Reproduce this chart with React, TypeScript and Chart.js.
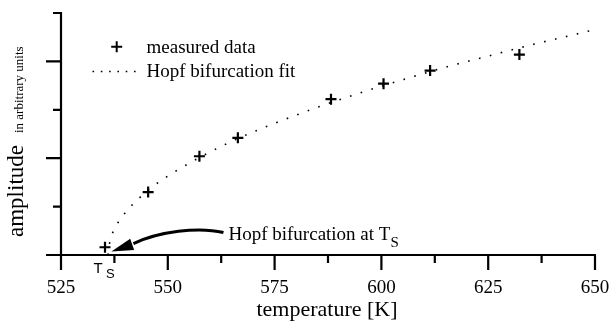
import React, { useEffect, useRef } from 'react';
import { Chart, registerables } from 'chart.js';

Chart.register(...registerables);

// ---- data ----
const measuredT = [535.3, 545.4, 557.4, 566.4, 588.2, 600.5, 611.4, 632.3];
const measuredA = [0.16, 1.3, 2.04, 2.42, 3.22, 3.54, 3.81, 4.14];

const fitT = [536, 536.5, 537, 538, 540, 543, 547, 552, 558, 565, 575, 585, 595, 605, 615, 625, 635, 645, 650];
const fitA = [0, 0.31, 0.44, 0.62, 0.87, 1.15, 1.45, 1.74, 2.04, 2.35, 2.72, 3.05, 3.35, 3.62, 3.88, 4.11, 4.34, 4.55, 4.66];

const xMajorTicks = [525, 550, 575, 600, 625, 650];
const xMinorTicks = [537.5, 562.5, 587.5, 612.5, 637.5];
const yMajorTicks = [0, 2, 4];
const yMinorTicks = [1, 3, 5];

const xMin = 525;
const xMax = 650;
const yMin = 0;
const yMax = 5;

// annotation anchors (data units)
const tsValue = 537.5;
const arrowTipT = 536.8;
const arrowTipA = 0.07;
const noteT = 564.2;
const noteA = 0.3;

const SERIF = '"Liberation Serif", "Times New Roman", serif';
const SANS = '"Liberation Sans", Arial, sans-serif';
const INK = '#000000';

const customAxes = {
  id: 'customAxes',
  afterDraw(chart: any) {
    const ctx: CanvasRenderingContext2D = chart.ctx;
    const xs = chart.scales.x;
    const ys = chart.scales.y;
    const X = (v: number) => xs.getPixelForValue(v);
    const Y = (v: number) => ys.getPixelForValue(v);
    const x0 = X(xMin);
    const x1 = X(xMax);
    const y0 = Y(yMin);
    const yTop = Y(yMax);

    ctx.save();
    ctx.strokeStyle = INK;
    ctx.fillStyle = INK;
    ctx.lineWidth = 2.2;
    ctx.lineCap = 'butt';

    // axis lines
    ctx.beginPath();
    ctx.moveTo(x0 - 15, y0);
    ctx.lineTo(x1 + 1, y0);
    ctx.moveTo(x0, y0 + 15);
    ctx.lineTo(x0, yTop - 1);
    // x ticks
    xMajorTicks.forEach((v) => {
      const p = X(v);
      ctx.moveTo(p, y0);
      ctx.lineTo(p, y0 + 15);
    });
    xMinorTicks.forEach((v) => {
      const p = X(v);
      ctx.moveTo(p, y0);
      ctx.lineTo(p, y0 + 8);
    });
    // y ticks
    yMajorTicks.forEach((v) => {
      const p = Y(v);
      ctx.moveTo(x0, p);
      ctx.lineTo(x0 - 15, p);
    });
    yMinorTicks.forEach((v) => {
      const p = Y(v);
      ctx.moveTo(x0, p);
      ctx.lineTo(x0 - 8, p);
    });
    ctx.stroke();

    // x tick labels
    ctx.font = `19px ${SERIF}`;
    ctx.textAlign = 'center';
    ctx.textBaseline = 'alphabetic';
    xMajorTicks.forEach((v) => {
      ctx.fillText(String(v), X(v), y0 + 38);
    });

    // x title
    ctx.font = `22px ${SERIF}`;
    ctx.fillText('temperature [K]', (x0 + x1) / 2 - 1, y0 + 61);

    // y title
    ctx.save();
    ctx.translate(23, y0 - 18);
    ctx.rotate(-Math.PI / 2);
    ctx.textAlign = 'left';
    ctx.font = `23px ${SERIF}`;
    ctx.fillText('amplitude', 0, 0);
    const w = ctx.measureText('amplitude').width;
    ctx.font = `13px ${SERIF}`;
    ctx.fillText('in arbitrary units', w + 12, 0);
    ctx.restore();

    // T_S label under axis
    const tsx = X(tsValue);
    ctx.textAlign = 'left';
    ctx.font = `15px ${SANS}`;
    ctx.fillText('T', tsx - 21, y0 + 17.5);
    ctx.font = `13px ${SANS}`;
    ctx.fillText('S', tsx - 8.5, y0 + 23);

    // legend
    const ds0 = chart.data.datasets[0];
    const ds1 = chart.data.datasets[1];
    ctx.lineWidth = 2;
    ctx.beginPath();
    ctx.moveTo(111.2, 46.7);
    ctx.lineTo(122.2, 46.7);
    ctx.moveTo(116.7, 41.2);
    ctx.lineTo(116.7, 52.2);
    ctx.stroke();
    ctx.font = `19px ${SERIF}`;
    ctx.fillText(ds0.label, 146.5, 53.3);
    ctx.save();
    ctx.lineWidth = 1.6;
    ctx.setLineDash([1.6, 6.7]);
    ctx.beginPath();
    ctx.moveTo(92.5, 71.5);
    ctx.lineTo(138, 71.5);
    ctx.stroke();
    ctx.restore();
    ctx.fillText(ds1.label, 146.5, 77.3);

    // annotation text
    const nx = X(noteT);
    const ny = Y(noteA);
    ctx.font = `19px ${SERIF}`;
    const mainTxt = 'Hopf bifurcation at T';
    ctx.fillText(mainTxt, nx, ny);
    const mw = ctx.measureText(mainTxt).width;
    ctx.font = `15px ${SERIF}`;
    ctx.fillText('S', nx + mw, ny + 7);

    // curved arrow
    const tipX = X(arrowTipT);
    const tipY = Y(arrowTipA);
    const sx = nx - 5;
    const sy = ny - 8;
    const ex = tipX + 20;
    const ey = tipY - 7;
    ctx.lineWidth = 3;
    ctx.beginPath();
    ctx.moveTo(sx, sy);
    ctx.bezierCurveTo(sx - 25, sy - 6, sx - 65, sy - 1, ex + 2, ey - 1);
    ctx.stroke();
    // head
    const dx = tipX - ex;
    const dy = tipY - ey;
    const len = Math.hypot(dx, dy);
    const ux = dx / len;
    const uy = dy / len;
    const bx = tipX - ux * 22;
    const by = tipY - uy * 22;
    ctx.beginPath();
    ctx.moveTo(tipX, tipY);
    ctx.lineTo(bx - uy * 6, by + ux * 6);
    ctx.lineTo(bx + uy * 6, by - ux * 6);
    ctx.closePath();
    ctx.fill();

    ctx.restore();
  },
};

export default function App() {
  const canvasRef = useRef<HTMLCanvasElement | null>(null);

  useEffect(() => {
    const canvas = canvasRef.current;
    if (!canvas) return;
    const chart = new Chart(canvas, {
      type: 'scatter',
      data: {
        datasets: [
          {
            label: 'measured data',
            data: measuredT.map((t, i) => ({ x: t, y: measuredA[i] })),
            pointStyle: 'cross',
            pointRadius: 5.5,
            borderColor: INK,
            backgroundColor: INK,
            borderWidth: 2.2,
            showLine: false,
          } as any,
          {
            label: 'Hopf bifurcation fit',
            type: 'line',
            data: fitT.map((t, i) => ({ x: t, y: fitA[i] })),
            borderColor: INK,
            borderWidth: 1.6,
            borderDash: [1.6, 9.6],
            pointRadius: 0,
            showLine: true,
            fill: false,
            cubicInterpolationMode: 'monotone',
          } as any,
        ],
      },
      options: {
        responsive: false,
        animation: false,
        layout: { padding: { left: 61, right: 17, top: 13, bottom: 70 } },
        scales: {
          x: { type: 'linear', min: xMin, max: xMax, display: false },
          y: { type: 'linear', min: yMin, max: yMax, display: false },
        },
        plugins: {
          legend: { display: false },
          tooltip: { enabled: false },
        },
      },
      plugins: [customAxes],
    });
    return () => chart.destroy();
  }, []);

  return (
    <div style={{ position: 'absolute', left: 0, top: 0, width: 612, height: 325, background: '#fff' }}>
      <canvas ref={canvasRef} width={612} height={325} style={{ display: 'block', width: 612, height: 325 }} />
    </div>
  );
}
